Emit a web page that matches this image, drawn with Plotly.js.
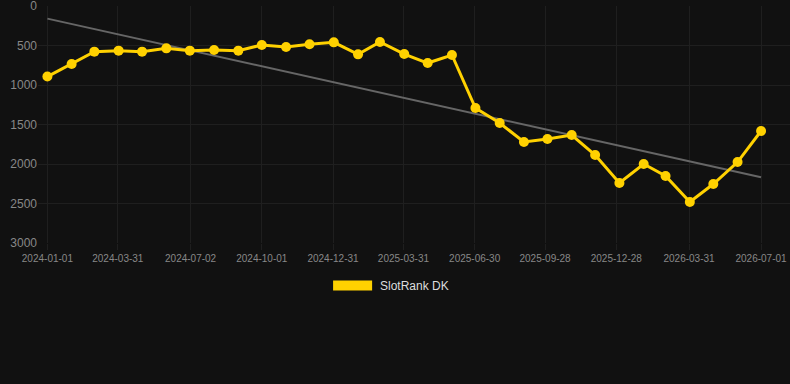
<!DOCTYPE html>
<html>
<head>
<meta charset="utf-8">
<script src="https://cdn.plot.ly/plotly-3.0.1.min.js"></script>
<style>html,body{margin:0;padding:0;background:#111111;}#chart{width:790px;height:384px;}</style>
</head>
<body>
<div id="chart"></div>
<script>
const dates = ["2024-01-01","2024-02-01","2024-03-01","2024-04-01","2024-05-01","2024-06-01","2024-07-01","2024-08-01","2024-09-01","2024-10-01","2024-11-01","2024-12-01","2025-01-01","2025-02-01","2025-03-01","2025-04-01","2025-05-01","2025-06-01","2025-07-01","2025-08-01","2025-09-01","2025-10-01","2025-11-01","2025-12-01","2026-01-01","2026-02-01","2026-03-01","2026-04-01","2026-05-01","2026-06-01","2026-07-01"];
const ranks = [893,734,578,565,578,536,565,557,565,494,519,485,460,612,456,608,722,620,1291,1481,1722,1684,1633,1886,2241,2000,2152,2481,2253,1975,1582];
const trendDates = ["2024-01-01","2026-07-01"];
const trendValues = [160,2168];
const tickVals = ["2024-01-01","2024-03-31","2024-07-02","2024-10-01","2024-12-31","2025-03-31","2025-06-30","2025-09-28","2025-12-28","2026-03-31","2026-07-01"];
const seriesName = "SlotRank DK";

const traces = [
  {x: trendDates, y: trendValues, mode: "lines", line: {color: "#666666", width: 2}, showlegend: false, hoverinfo: "skip"},
  {x: dates, y: ranks, mode: "lines+markers", name: seriesName, line: {color: "#FFD100", width: 3}, marker: {color: "#FFD100", size: 10}, showlegend: false}
];

const layout = {
  width: 790, height: 384,
  paper_bgcolor: "#111111", plot_bgcolor: "#111111",
  margin: {l: 38, r: 0, t: 6, b: 141},
  font: {family: "Arial, Liberation Sans, sans-serif", color: "#888888"},
  xaxis: {
    type: "date",
    range: ["2023-12-20", "2026-08-07"],
    tickvals: tickVals, ticktext: tickVals,
    tickfont: {size: 10, color: "#888888"},
    gridcolor: "#1f1f1f", zeroline: false, showline: false,
    ticks: "outside", ticklen: 6, tickcolor: "#1f1f1f"
  },
  yaxis: {
    range: [3000, 0],
    tickvals: [0,500,1000,1500,2000,2500,3000],
    tickfont: {size: 12, color: "#888888"},
    gridcolor: "#1f1f1f", zeroline: false, showline: false,
    ticks: "", ticklabeloverflow: "allow"
  },
  shapes: [
    {type: "rect", xref: "paper", yref: "paper", x0: 0.3924, x1: 0.4443, y0: -0.2004, y1: -0.1587, fillcolor: "#FFD100", line: {width: 0}}
  ],
  annotations: [
    {xref: "paper", yref: "paper", x: 0.4519, y: -0.1795, xanchor: "left", yanchor: "middle", showarrow: false, text: seriesName, font: {size: 12, color: "#dddddd"}}
  ]
};

Plotly.newPlot("chart", traces, layout, {displayModeBar: false, staticPlot: true});
</script>
</body>
</html>
